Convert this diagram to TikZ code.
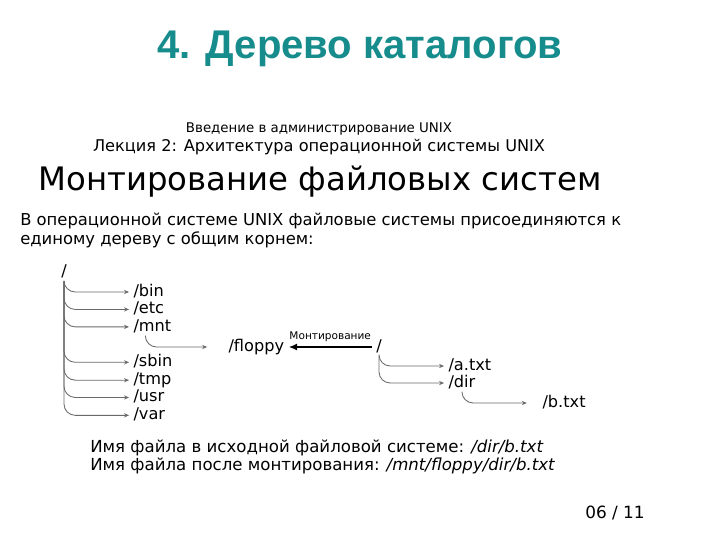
\documentclass[tikz,border=0pt]{standalone}
\usepackage{fontspec}
\setmainfont{DejaVu Sans}
\newfontfamily\titlefont{Liberation Sans}
\usetikzlibrary{positioning,arrows.meta}
\definecolor{titleteal}{RGB}{22,140,140}
\definecolor{branchgray}{RGB}{105,105,105}

\begin{document}
\begin{tikzpicture}[x=0.025cm,y=-0.025cm,
	dirnode/.style={anchor=west, inner xsep=3pt, inner ysep=1pt, font=\fontsize{11.5}{13}\selectfont, text height=8.5pt, text depth=2.5pt},
	branch/.style={branchgray, line width=0.6pt, rounded corners=8pt, -{Stealth[length=3.5pt,width=3pt]}},
	textline/.style={inner sep=0pt, anchor=base west},]
	\useasboundingbox[fill=white] (0,0) rectangle (720,540);

	\node[textline, anchor=base, text=titleteal, font=\titlefont\bfseries\fontsize{28.5}{34}\selectfont](title) at (360,58){4. Дерево каталогов};
	\node[textline, anchor=base, font=\fontsize{9.5}{11}\selectfont](course) at (319,132){Введение в администрирование UNIX};
	\node[textline, anchor=base, font=\fontsize{11.5}{13}\selectfont](lecture) at (319,151){Лекция 2: Архитектура операционной системы UNIX};
	\node[textline, anchor=base, font=\fontsize{23}{27}\selectfont](heading) at (320,190){Монтирование файловых систем};
	\node[textline, font=\fontsize{11.65}{13}\selectfont](intro1) at (20,225){В операционной системе UNIX файловые системы присоединяются к};
	\node[textline, font=\fontsize{11.65}{13}\selectfont](intro2) at (20,244){единому дереву с общим корнем:};

	\node[dirnode, anchor=center](root) at (64,272){/};
	\node[dirnode](bin) at (129,292){/bin};
	\node[dirnode](etc)[below=12.4pt of bin.west, anchor=west]{/etc};
	\node[dirnode](mnt)[below=12.4pt of etc.west, anchor=west]{/mnt};
	\node[dirnode](sbin)[below=25.2pt of mnt.west, anchor=west]{/sbin};
	\node[dirnode](tmp)[below=12.7pt of sbin.west, anchor=west]{/tmp};
	\node[dirnode](usr)[below=12.3pt of tmp.west, anchor=west]{/usr};
	\node[dirnode](var)[below=12.7pt of usr.west, anchor=west]{/var};
	\node[dirnode](floppy) at (224,347){/floppy};

	\node[dirnode, anchor=center](mroot) at (379,347){/};
	\node[dirnode](atxt) at (444,366){/a.txt};
	\node[dirnode](dir)[below=12.1pt of atxt.west, anchor=west]{/dir};
	\node[dirnode](btxt) at (538,403){/b.txt};

	\foreach \child in {bin,etc,mnt,sbin,tmp,usr,var}
		\draw[branch](root.south) |- (\child.west);
	\draw[branch, shorten >=12pt]([xshift=-5pt]mnt.south) |- (floppy.west);
	\draw[-{Latex[length=6pt,width=5pt]}, line width=1.4pt](mroot.west) -- (floppy.east)
		node[midway, above, font=\fontsize{7.5}{9}\selectfont]{Монтирование};
	\draw[branch](mroot.south) |- (atxt.west);
	\draw[branch](mroot.south) |- (dir.west);
	\draw[branch, shorten >=8pt](dir.south) |- (btxt.west);

	\node[textline, font=\fontsize{11.8}{13}\selectfont](srcname) at (90,452){Имя файла в исходной файловой системе: \textit{/dir/b.txt}};
	\node[textline, font=\fontsize{11.8}{13}\selectfont](mntname) at (90,470){Имя файла после монтирования: \textit{/mnt/floppy/dir/b.txt}};
	\node[textline, font=\fontsize{12}{14}\selectfont](page) at (585,518){06 / 11};
\end{tikzpicture}
\end{document}
